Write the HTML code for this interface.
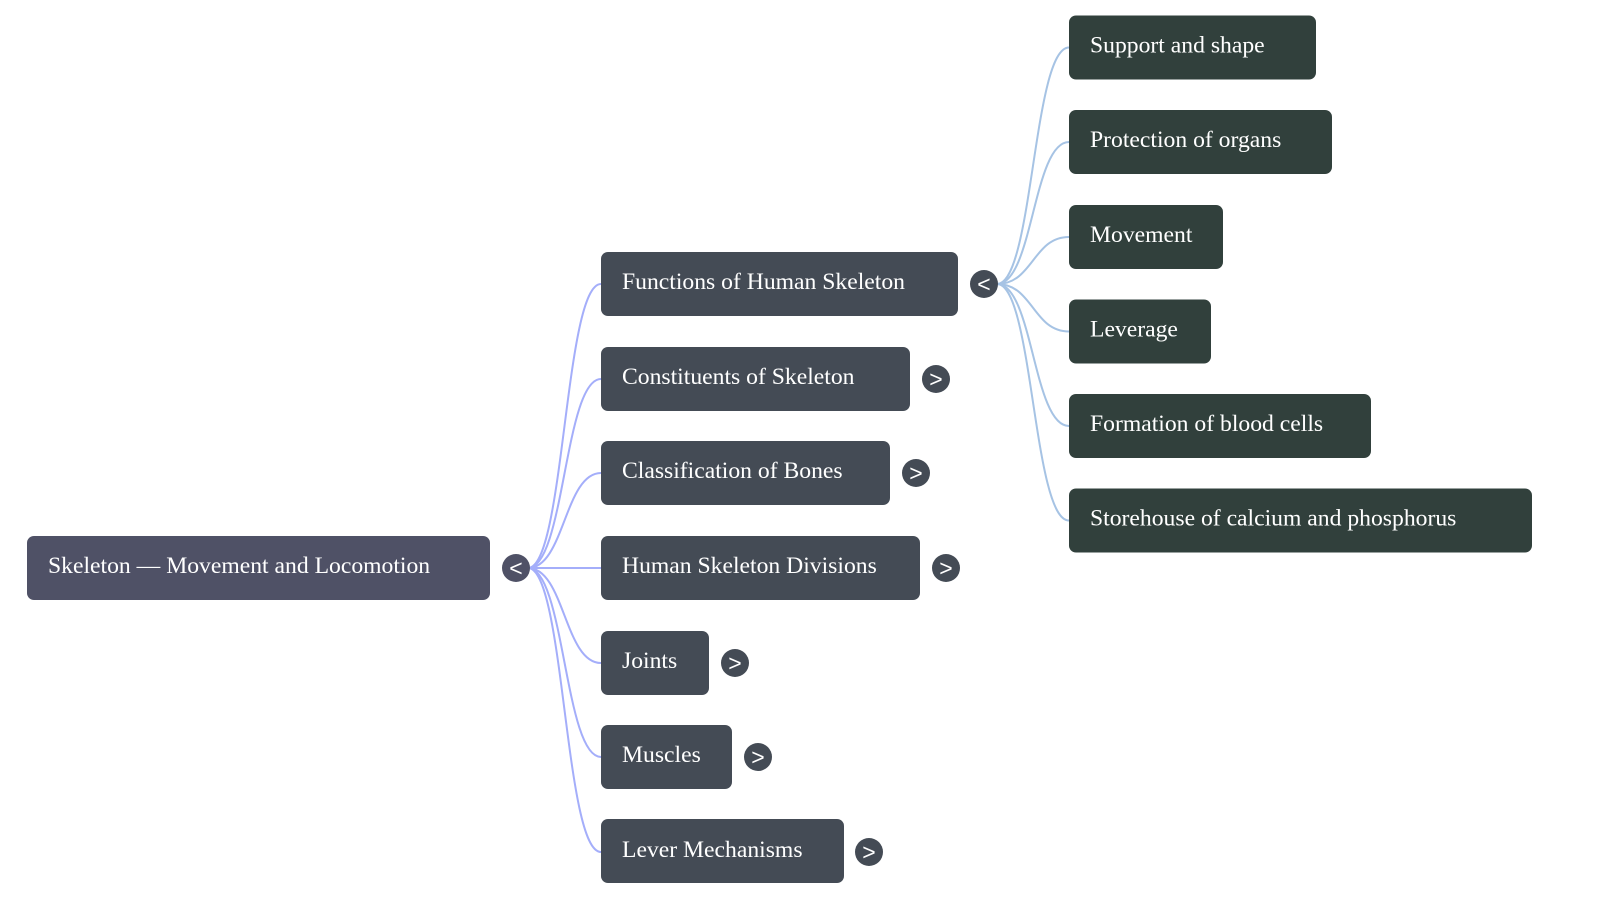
<!DOCTYPE html>
<html>
<head>
<meta charset="utf-8">
<style>
  html, body { margin: 0; padding: 0; background: #ffffff; }
  body { width: 1600px; height: 899px; overflow: hidden; }
  svg { display: block; }
  .t { font-family: "Liberation Serif", "Times New Roman", serif; font-size: 23.65px; fill: #ffffff; }
  .g { font-family: "Liberation Sans", "DejaVu Sans", sans-serif; font-size: 23px; fill: #ffffff; }
</style>
</head>
<body>
<svg width="1600" height="899" viewBox="0 0 1600 899" xmlns="http://www.w3.org/2000/svg">
  <!-- level 1 edges -->
  <g fill="none" stroke="#a4aefa" stroke-width="2">
    <path d="M528 568 C564.5 568, 564.5 284, 601 284"/>
    <path d="M528 568 C564.5 568, 564.5 379, 601 379"/>
    <path d="M528 568 C564.5 568, 564.5 473, 601 473"/>
    <path d="M528 568 L601 568"/>
    <path d="M528 568 C564.5 568, 564.5 663, 601 663"/>
    <path d="M528 568 C564.5 568, 564.5 757, 601 757"/>
    <path d="M528 568 C564.5 568, 564.5 852, 601 852"/>
  </g>
  <!-- level 2 edges -->
  <g fill="none" stroke="#a6c3e4" stroke-width="2">
    <path d="M997 284 C1033 284, 1033 47.5, 1069 47.5"/>
    <path d="M997 284 C1033 284, 1033 142, 1069 142"/>
    <path d="M997 284 C1033 284, 1033 237, 1069 237"/>
    <path d="M997 284 C1033 284, 1033 331.5, 1069 331.5"/>
    <path d="M997 284 C1033 284, 1033 426, 1069 426"/>
    <path d="M997 284 C1033 284, 1033 520.5, 1069 520.5"/>
  </g>

  <!-- root -->
  <rect x="27" y="536" width="463" height="64" rx="7" fill="#4f5166"/>
  <text class="t" x="48" y="573">Skeleton — Movement and Locomotion</text>
  <circle cx="516" cy="568" r="14" fill="#4f5166"/>
  <text class="g" x="516" y="576" text-anchor="middle">&lt;</text>

  <!-- level 1 nodes -->
  <g fill="#444b55">
    <rect x="601" y="252" width="357" height="64" rx="7"/>
    <rect x="601" y="347" width="309" height="64" rx="7"/>
    <rect x="601" y="441" width="289" height="64" rx="7"/>
    <rect x="601" y="536" width="319" height="64" rx="7"/>
    <rect x="601" y="631" width="108" height="64" rx="7"/>
    <rect x="601" y="725" width="131" height="64" rx="7"/>
    <rect x="601" y="819" width="243" height="64" rx="7"/>
  </g>
  <text class="t" x="622" y="289">Functions of Human Skeleton</text>
  <text class="t" x="622" y="384">Constituents of Skeleton</text>
  <text class="t" x="622" y="478">Classification of Bones</text>
  <text class="t" x="622" y="573">Human Skeleton Divisions</text>
  <text class="t" x="622" y="668">Joints</text>
  <text class="t" x="622" y="762">Muscles</text>
  <text class="t" x="622" y="857">Lever Mechanisms</text>

  <!-- level 1 toggles -->
  <g fill="#444b55">
    <circle cx="984" cy="284" r="14"/>
    <circle cx="936" cy="379" r="14"/>
    <circle cx="916" cy="473" r="14"/>
    <circle cx="946" cy="568" r="14"/>
    <circle cx="735" cy="663" r="14"/>
    <circle cx="758" cy="757" r="14"/>
    <circle cx="869" cy="852" r="14"/>
  </g>
  <text class="g" x="984" y="292" text-anchor="middle">&lt;</text>
  <text class="g" x="936" y="387" text-anchor="middle">&gt;</text>
  <text class="g" x="916" y="481" text-anchor="middle">&gt;</text>
  <text class="g" x="946" y="576" text-anchor="middle">&gt;</text>
  <text class="g" x="735" y="671" text-anchor="middle">&gt;</text>
  <text class="g" x="758" y="765" text-anchor="middle">&gt;</text>
  <text class="g" x="869" y="860" text-anchor="middle">&gt;</text>

  <!-- level 2 nodes -->
  <g fill="#31403c">
    <rect x="1069" y="15.5" width="247" height="64" rx="7"/>
    <rect x="1069" y="110" width="263" height="64" rx="7"/>
    <rect x="1069" y="205" width="154" height="64" rx="7"/>
    <rect x="1069" y="299.5" width="142" height="64" rx="7"/>
    <rect x="1069" y="394" width="302" height="64" rx="7"/>
    <rect x="1069" y="488.5" width="463" height="64" rx="7"/>
  </g>
  <text class="t" x="1090" y="52.5">Support and shape</text>
  <text class="t" x="1090" y="147">Protection of organs</text>
  <text class="t" x="1090" y="242">Movement</text>
  <text class="t" x="1090" y="336.5">Leverage</text>
  <text class="t" x="1090" y="431">Formation of blood cells</text>
  <text class="t" x="1090" y="525.5">Storehouse of calcium and phosphorus</text>
</svg>
</body>
</html>
